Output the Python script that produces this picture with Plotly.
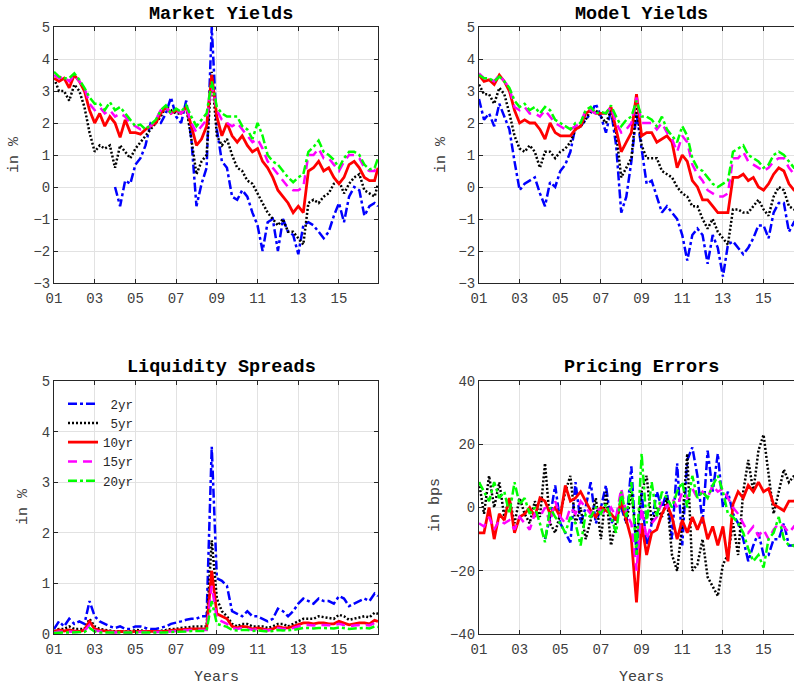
import pandas as pd
import plotly.graph_objects as go

# ---------------- data (quarterly readings, last point Dec 2016) ----------------
dates = [d.strftime("%Y-%m-%d") for d in pd.date_range("2001-01-01", periods=64, freq="QS")] + ["2016-12-01"]

N = None
series_names = ["\u00a02yr", "\u00a05yr", "10yr", "15yr", "20yr"]

mkt_2yr = [N, N, N, N, N, N, N, N, N, N, N, N,
           0.0, -0.6, 0.2, 0.1, 0.7, 0.9, 1.3, 2.0, 2.0, 2.0, 2.3, 2.8,
           2.2, 2.0, 2.7, 1.5, -0.6, 0.1, 0.6, 5.0, 1.8, 0.8, 0.6, -0.3,
           -0.4, -0.1, -0.3, -0.8, -1.2, -2.0, -1.1, -1.0, -2.0, -1.0, -1.4, -1.5,
           -2.1, -1.2, -1.1, -1.2, -1.4, -1.6, -1.4, -0.9, -0.5, -1.1, -0.3, 0.0,
           -0.1, -0.9, -0.6, -0.5, -0.6]
mkt_5yr = [3.4, 3.0, 3.0, 2.7, 3.2, 3.0, 2.5, 1.7, 1.1, 1.3, 1.2, 1.3,
           0.6, 1.3, 1.1, 0.9, 1.2, 1.4, 1.6, 1.8, 2.0, 2.2, 2.5, 2.4,
           2.3, 2.3, 2.5, 1.5, 0.4, 0.8, 1.0, 3.6, 1.6, 1.3, 1.5, 1.0,
           0.6, 0.5, 0.2, 0.1, -0.2, -0.5, -0.8, -1.0, -1.2, -1.0, -1.4, -1.4,
           -1.6, -1.8, -0.5, -0.4, -0.5, -0.3, -0.2, 0.1, 0.2, -0.2, 0.1, 0.3,
           0.4, -0.1, -0.2, -0.3, 0.1]
mkt_10yr = [3.4, 3.3, 3.4, 3.1, 3.5, 3.3, 3.0, 2.4, 2.0, 2.3, 1.9, 2.2,
            2.0, 1.55, 2.1, 1.7, 1.7, 1.65, 1.8, 1.9, 2.0, 2.3, 2.5, 2.3,
            2.4, 2.3, 2.5, 1.9, 1.3, 1.5, 1.9, 3.5, 2.2, 1.6, 2.0, 1.6,
            1.4, 1.6, 1.3, 1.1, 1.2, 0.8, 0.6, 0.3, -0.1, -0.3, -0.5, -0.8,
            -0.6, -0.8, 0.5, 0.6, 0.8, 0.5, 0.6, 0.3, 0.1, 0.3, 0.7, 0.8,
            0.6, 0.3, 0.2, 0.2, 0.6]
mkt_15yr = [3.5, 3.4, 3.45, 3.3, 3.5, 3.3, 3.1, 2.6, 2.4, 2.5, 2.3, 2.4,
            2.2, 2.3, 2.2, 2.0, 1.9, 1.8, 1.85, 1.9, 2.1, 2.4, 2.5, 2.3,
            2.4, 2.3, 2.5, 2.0, 1.7, 1.9, 2.1, 3.2, 2.4, 2.1, 2.0, 1.9,
            2.0, 1.8, 1.6, 1.4, 1.5, 1.2, 0.8, 0.6, 0.4, 0.2, 0.0, -0.1,
            -0.1, 0.0, 1.0, 1.0, 1.2, 0.9, 0.9, 0.7, 0.5, 0.8, 1.0, 1.0,
            0.9, 0.6, 0.5, 0.5, 0.7]
mkt_20yr = [3.6, 3.45, 3.4, 3.4, 3.55, 3.35, 3.1, 2.8, 2.6, 2.6, 2.4, 2.65,
            2.4, 2.5, 2.3, 2.1, 1.9, 1.95, 1.8, 1.95, 2.1, 2.4, 2.55, 2.3,
            2.45, 2.35, 2.55, 2.2, 1.9, 2.1, 2.3, 3.3, 2.5, 2.3, 2.2, 2.2,
            2.2, 1.9, 1.8, 1.5, 2.0, 1.6, 1.0, 0.8, 0.7, 0.5, 0.3, 0.15,
            0.3, 0.4, 1.1, 1.25, 1.45, 1.1, 1.0, 0.85, 0.6, 0.9, 1.1, 1.1,
            1.0, 0.7, 0.55, 0.6, 0.9]

mod_2yr = [2.75, 2.1, 2.3, 1.9, 2.6, 2.2, 1.8, 0.8, -0.1, 0.1, 0.2, 0.3,
           -0.2, -0.6, 0.15, 0.0, 0.5, 0.7, 1.1, 1.9, 1.9, 2.1, 2.3, 2.6,
           2.2, 1.7, 2.4, 1.3, -0.8, -0.3, 0.8, 2.3, 1.2, 0.1, 0.2, -0.3,
           -0.8, -0.6, -0.8, -1.0, -1.5, -2.3, -1.5, -1.3, -1.5, -2.4, -1.5, -1.9,
           -2.8, -1.8, -1.7, -1.9, -2.1, -1.9, -1.6, -1.2, -1.2, -1.6, -0.8, -0.5,
           -0.5, -1.4, -1.1, -1.2, -1.0]
mod_5yr = [3.2, 2.9, 2.9, 2.6, 3.1, 2.9, 2.3, 1.6, 1.2, 1.1, 1.3, 1.1,
           0.6, 1.1, 1.1, 0.9, 1.1, 1.2, 1.4, 1.8, 1.9, 2.1, 2.4, 2.4,
           2.2, 2.0, 2.4, 1.7, 0.3, 0.6, 0.9, 2.5, 1.3, 0.9, 0.9, 0.9,
           0.5, 0.4, 0.3, 0.0, -0.2, -0.3, -0.6, -0.6, -1.0, -1.3, -1.0, -1.4,
           -1.6, -1.8, -0.7, -0.7, -0.8, -0.8, -0.6, -0.4, -0.7, -0.9, -0.3, 0.0,
           -0.1, -0.6, -0.7, -0.8, -0.7]
mod_10yr = [3.5, 3.3, 3.35, 3.2, 3.5, 3.3, 3.0, 2.4, 2.0, 2.1, 2.0, 2.0,
            1.8, 1.5, 2.0, 1.7, 1.6, 1.6, 1.6, 1.8, 1.9, 2.3, 2.4, 2.3,
            2.3, 2.3, 2.5, 1.8, 1.1, 1.4, 1.7, 2.9, 1.6, 1.7, 1.7, 1.4,
            1.5, 1.6, 1.4, 0.6, 1.0, 0.8, 0.2, 0.0, -0.4, -0.4, -0.6, -0.8,
            -0.8, -0.8, 0.3, 0.3, 0.4, 0.2, 0.3, 0.0, -0.1, 0.1, 0.4, 0.6,
            0.5, 0.1, -0.1, -0.1, 0.0]
mod_15yr = [3.55, 3.4, 3.4, 3.3, 3.5, 3.3, 3.1, 2.5, 2.4, 2.5, 2.3, 2.3,
            2.2, 2.4, 2.2, 2.0, 1.9, 1.8, 1.8, 1.9, 2.0, 2.4, 2.4, 2.3,
            2.3, 2.3, 2.5, 2.0, 1.7, 1.8, 2.0, 2.8, 2.0, 2.0, 2.0, 1.8,
            2.0, 1.7, 1.5, 1.1, 1.6, 1.4, 0.7, 0.4, 0.2, -0.1, -0.2, -0.3,
            -0.3, -0.2, 0.9, 0.9, 1.1, 0.8, 0.7, 0.6, 0.5, 0.6, 0.8, 0.9,
            0.9, 0.6, 0.4, 0.4, 0.5]
mod_20yr = [3.5, 3.4, 3.4, 3.3, 3.45, 3.3, 3.1, 2.7, 2.5, 2.6, 2.4, 2.5,
            2.3, 2.5, 2.4, 2.1, 2.0, 1.9, 1.8, 2.0, 2.0, 2.4, 2.5, 2.3,
            2.35, 2.3, 2.55, 2.2, 1.9, 2.1, 2.2, 2.7, 2.2, 2.2, 2.1, 1.9,
            2.2, 1.8, 1.6, 1.4, 1.9, 1.6, 0.9, 0.6, 0.5, 0.3, 0.1, 0.0,
            0.1, 0.2, 1.1, 1.2, 1.3, 1.0, 0.9, 0.8, 0.6, 0.7, 1.0, 1.1,
            1.0, 0.8, 0.6, 0.6, 0.7]

liq_2yr = [0.1, 0.25, 0.15, 0.3, 0.2, 0.25, 0.2, 0.65, 0.35, 0.25, 0.2, 0.15,
           0.12, 0.15, 0.1, 0.1, 0.15, 0.15, 0.12, 0.1, 0.1, 0.12, 0.15, 0.2,
           0.22, 0.25, 0.28, 0.3, 0.3, 0.35, 0.35, 3.7, 1.1, 1.05, 0.95, 0.45,
           0.4, 0.35, 0.45, 0.35, 0.35, 0.3, 0.25, 0.3, 0.5, 0.45, 0.35, 0.45,
           0.6, 0.7, 0.65, 0.6, 0.7, 0.65, 0.65, 0.6, 0.75, 0.7, 0.55, 0.6,
           0.65, 0.7, 0.65, 0.8, 0.75]
liq_5yr = [0.05, 0.1, 0.1, 0.15, 0.1, 0.1, 0.1, 0.3, 0.15, 0.1, 0.08, 0.06,
           0.05, 0.05, 0.05, 0.05, 0.08, 0.07, 0.05, 0.05, 0.05, 0.06, 0.08, 0.1,
           0.1, 0.12, 0.13, 0.15, 0.15, 0.15, 0.15, 1.85, 0.7, 0.45, 0.35, 0.2,
           0.15, 0.2, 0.2, 0.15, 0.15, 0.15, 0.12, 0.15, 0.2, 0.2, 0.15, 0.2,
           0.25, 0.3, 0.3, 0.3, 0.35, 0.33, 0.32, 0.3, 0.38, 0.35, 0.28, 0.3,
           0.33, 0.35, 0.33, 0.42, 0.4]
liq_10yr = [0.05, 0.08, 0.06, 0.08, 0.06, 0.05, 0.08, 0.25, 0.1, 0.07, 0.06, 0.05,
            0.04, 0.05, 0.04, 0.04, 0.05, 0.05, 0.04, 0.04, 0.04, 0.05, 0.05, 0.07,
            0.08, 0.08, 0.09, 0.1, 0.1, 0.1, 0.1, 1.25, 0.4, 0.35, 0.3, 0.15,
            0.12, 0.15, 0.14, 0.1, 0.12, 0.1, 0.08, 0.1, 0.15, 0.12, 0.12, 0.15,
            0.18, 0.22, 0.22, 0.2, 0.22, 0.22, 0.2, 0.2, 0.25, 0.22, 0.18, 0.2,
            0.22, 0.22, 0.2, 0.27, 0.25]
liq_15yr = [0.03, 0.05, 0.04, 0.05, 0.04, 0.04, 0.06, 0.18, 0.07, 0.05, 0.04, 0.04,
            0.03, 0.04, 0.03, 0.03, 0.04, 0.04, 0.03, 0.03, 0.03, 0.04, 0.04, 0.05,
            0.06, 0.06, 0.07, 0.08, 0.08, 0.08, 0.08, 0.95, 0.3, 0.25, 0.2, 0.12,
            0.1, 0.12, 0.11, 0.08, 0.1, 0.08, 0.07, 0.08, 0.12, 0.1, 0.1, 0.12,
            0.15, 0.18, 0.18, 0.17, 0.18, 0.18, 0.17, 0.17, 0.2, 0.18, 0.15, 0.17,
            0.18, 0.18, 0.17, 0.22, 0.2]
liq_20yr = [0.02, 0.03, 0.03, 0.03, 0.03, 0.03, 0.04, 0.12, 0.05, 0.03, 0.03, 0.03,
            0.02, 0.03, 0.02, 0.02, 0.03, 0.03, 0.02, 0.02, 0.02, 0.03, 0.03, 0.04,
            0.04, 0.05, 0.05, 0.06, 0.06, 0.06, 0.06, 0.65, 0.2, 0.17, 0.14, 0.08,
            0.07, 0.08, 0.08, 0.06, 0.07, 0.06, 0.05, 0.06, 0.08, 0.07, 0.07, 0.08,
            0.1, 0.12, 0.12, 0.11, 0.12, 0.12, 0.11, 0.11, 0.13, 0.12, 0.1, 0.11,
            0.12, 0.12, 0.11, 0.15, 0.14]

pe_2yr = [N, N, N, N, N, N, N, N, N, N, N, N,
          N, -10, -3, 7, -5, -8, -11, 8, -5, 0, 8, -5,
          0, 7, -5, -3, 0, -5, 13, -15, 5, -13, -5, 5,
          0, 5, -10, 14, -12, 15, 19, 10, -5, 18, 5, 17,
          0, 5, -2, -5, -10, -17, -12, -8, -15, -15, -10, -10,
          -5, -12, -12, -10, -10]
pe_5yr = [8, -2, 10, 0, 8, -3, 3, -5, 3, -2, -5, 2,
          -3, 14, -5, -8, -2, 5, 10, -5, 0, -10, -4, 3,
          -10, 5, -12, -5, 3, -5, 5, -10, 5, 10, -5, 0,
          -3, 3, -15, -20, -5, 17, -20, -18, -10, -22, -25, -28,
          -18, -15, -5, -15, 5, 15, 5, 18, 23, 10, -2, 5,
          12, 8, 10, 5, 8]
pe_10yr = [-8, -8, 0, -10, -2, -4, 3, -8, -3, -2, 0, -3,
           3, 2, -2, 0, -3, 7, 2, 3, 5, 2, -1, -3,
           0, -1, -2, -4, 2, -4, -10, -30, -5, -15, -8, -7,
           -2, 1, -3, -10, -4, -8, -3, -7, -3, -10, -6, -12,
           -6, -17, 1, 5, 3, 7, 5, 8, 5, 6, 1, 0,
           -1, 2, 2, 3, 2]
pe_15yr = [-5, -6, -3, -7, -4, -5, -4, -7, -3, -5, -7, -2,
           -3, 0, -5, 2, -3, -5, 0, -2, 2, 0, -2, 0,
           -1, -2, 0, -3, 6, -2, -5, -20, 0, -10, -5, -3,
           2, 0, 3, 0, 5, 3, 6, 3, 5, 3, 7, 5,
           6, 3, 0, -2, -5, -8, -6, -9, -7, -10, -7, -5,
           -6, -8, -6, -7, -7]
pe_20yr = [8, 5, 2, 8, 3, 5, -2, 8, 1, 3, -2, 0,
           -5, -11, 0, -3, -5, -8, -3, -5, -12, -2, -3, 0,
           -2, 1, -3, -8, 5, -3, 8, -15, 17, -5, 8, -3,
           5, 3, 0, 5, 8, 0, 10, 3, 5, 3, 7, 10,
           5, -2, -3, -5, -8, -13, -17, -15, -19, -10, -8, -3,
           -10, -12, -12, -15, -13]

tick_dates = ["2001-01-01", "2003-01-01", "2005-01-01", "2007-01-01",
              "2009-01-01", "2011-01-01", "2013-01-01", "2015-01-01"]
tick_text = ["01", "03", "05", "07", "09", "11", "13", "15"]

# ---------------- styling ----------------
W, H = 794, 686
FONT = "Liberation Mono"
colors = ["#0000ff", "#000000", "#ff0000", "#ff00ff", "#00ff00"]
dashes = ["9px,3px,3px,3px", "2px,2px", "solid", "9px,6px", "9px,3px,3px,3px"]
widths = [2.5, 2.5, 2.8, 2.5, 2.5]

def px_x(p):
    return p / W

def px_y(p):
    return 1 - p / H

panels = [
    ([mkt_2yr, mkt_5yr, mkt_10yr, mkt_15yr, mkt_20yr], "x", "y", False),
    ([mod_2yr, mod_5yr, mod_10yr, mod_15yr, mod_20yr], "x2", "y2", False),
    ([liq_2yr, liq_5yr, liq_10yr, liq_15yr, liq_20yr], "x3", "y3", True),
    ([pe_2yr, pe_5yr, pe_10yr, pe_15yr, pe_20yr], "x4", "y4", False),
]

fig = go.Figure()
for data, xa, ya, show in panels:
    for i, vals in enumerate(data):
        fig.add_trace(go.Scatter(
            x=dates, y=vals, xaxis=xa, yaxis=ya, mode="lines",
            name=series_names[i], showlegend=show,
            line=dict(color=colors[i], width=widths[i], dash=dashes[i]),
            connectgaps=False, hoverinfo="skip"))

ax_common = dict(showline=True, linecolor="#262626", linewidth=1,
                 ticks="inside", ticklen=4, tickcolor="#262626",
                 showgrid=True, gridcolor="#e2e2e2", gridwidth=1,
                 zeroline=False, automargin=False,
                 tickfont=dict(family=FONT, size=14, color="#404040"))

left_dom = [px_x(54), px_x(378)]
right_dom = [px_x(479), 1.0]
top_dom = [px_y(283), px_y(27)]
bot_dom = [px_y(634), px_y(381)]

full_range = ["2001-01-01", "2016-12-01"]
cut_range = ["2001-01-01", "2016-07-01"]

def xax(dom, rng, anchor):
    return dict(ax_common, type="date", domain=dom, range=rng, anchor=anchor,
                tickvals=tick_dates, ticktext=tick_text, mirror="ticks",
                ticklabelstandoff=2)

def yax(dom, rng, dtick, anchor, mirror):
    return dict(ax_common, domain=dom, range=rng, dtick=dtick, anchor=anchor,
                mirror=mirror)

fig.update_layout(
    width=W, height=H,
    margin=dict(l=0, r=0, t=0, b=0, pad=0, autoexpand=False),
    paper_bgcolor="white", plot_bgcolor="white",
    font=dict(family=FONT, color="#262626"),
    xaxis=xax(left_dom, full_range, "y"),
    yaxis=yax(top_dom, [-3, 5], 1, "x", "ticks"),
    xaxis2=xax(right_dom, cut_range, "y2"),
    yaxis2=yax(top_dom, [-3, 5], 1, "x2", False),
    xaxis3=xax(left_dom, full_range, "y3"),
    yaxis3=yax(bot_dom, [0, 5], 1, "x3", "ticks"),
    xaxis4=xax(right_dom, cut_range, "y4"),
    yaxis4=yax(bot_dom, [-40, 40], 20, "x4", False),
    legend=dict(x=px_x(63), y=px_y(389), xanchor="left", yanchor="top",
                bgcolor="rgba(0,0,0,0)", borderwidth=0,
                font=dict(family=FONT, size=12.5, color="#262626"),
                itemwidth=30, tracegroupgap=0),
)

def ann(text, x, y, size, bold=False, angle=0):
    fig.add_annotation(
        text=("<b>%s</b>" % text) if bold else text,
        x=px_x(x), y=px_y(y), xref="paper", yref="paper",
        xanchor="center", yanchor="middle", showarrow=False, textangle=angle,
        font=dict(family=FONT, size=size, color="#000000" if bold else "#404040"))

ann("Market Yields", 221, 14, 18.5, bold=True)
ann("Model Yields", 641, 14, 18.5, bold=True)
ann("Liquidity Spreads", 221, 367, 18.5, bold=True)
ann("Pricing Errors", 641, 367, 18.5, bold=True)
ann("in %", 15, 155, 15, angle=-90)
ann("in %", 442, 155, 15, angle=-90)
ann("in %", 23, 507, 15, angle=-90)
ann("in bps", 435, 505, 15, angle=-90)
ann("Years", 216, 677, 15)
ann("Years", 641, 677, 15)

fig.write_html("out.html", config={"displayModeBar": False},
               post_script="document.body.style.margin='0px';document.body.style.overflow='hidden';")
